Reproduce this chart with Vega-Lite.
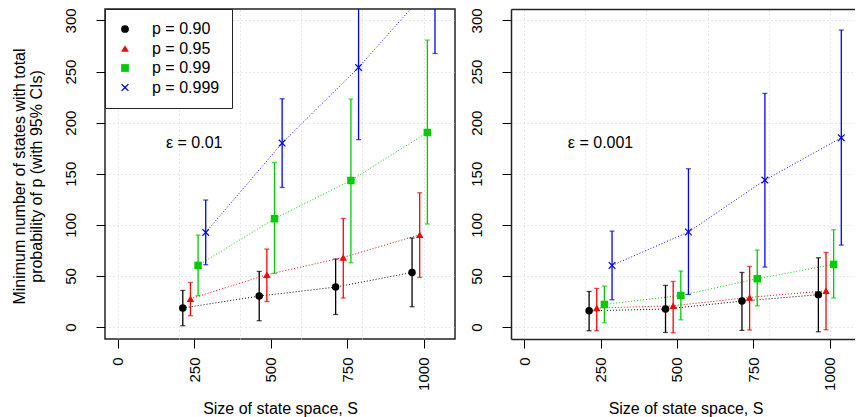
{
  "$schema": "https://vega.github.io/schema/vega-lite/v6.json",
  "autosize": {"type": "pad"},
  "padding": {"left": 10, "top": 7, "right": 0, "bottom": 0},
  "datasets": {
    "left": [
      {"p": "p = 0.90", "x": 212.5, "y": 18.6, "lo": 1.3, "hi": 35.8},
      {"p": "p = 0.90", "x": 462.5, "y": 30.3, "lo": 6.2, "hi": 54.4},
      {"p": "p = 0.90", "x": 712.5, "y": 39.1, "lo": 12.3, "hi": 66.5},
      {"p": "p = 0.90", "x": 962.5, "y": 53.4, "lo": 19.9, "hi": 87.1},
      {"p": "p = 0.95", "x": 237.5, "y": 27.7, "lo": 11.1, "hi": 43.6},
      {"p": "p = 0.95", "x": 487.5, "y": 51.2, "lo": 25.0, "hi": 76.3},
      {"p": "p = 0.95", "x": 737.5, "y": 68.1, "lo": 28.4, "hi": 106.3},
      {"p": "p = 0.95", "x": 987.5, "y": 90.3, "lo": 48.5, "hi": 131.4},
      {"p": "p = 0.99", "x": 262.5, "y": 60.3, "lo": 30.6, "hi": 90.0},
      {"p": "p = 0.99", "x": 512.5, "y": 106.0, "lo": 52.5, "hi": 161.1},
      {"p": "p = 0.99", "x": 762.5, "y": 143.4, "lo": 62.9, "hi": 223.1},
      {"p": "p = 0.99", "x": 1012.5, "y": 190.4, "lo": 100.8, "hi": 280.8},
      {"p": "p = 0.999", "x": 287.5, "y": 92.6, "lo": 61.0, "hi": 124.3},
      {"p": "p = 0.999", "x": 537.5, "y": 180.0, "lo": 136.6, "hi": 223.4},
      {"p": "p = 0.999", "x": 787.5, "y": 254.0, "lo": 183.3, "hi": 345.0},
      {"p": "p = 0.999", "x": 1037.5, "y": 338.0, "lo": 267.7, "hi": 420.0}
    ],
    "right": [
      {"p": "p = 0.90", "x": 212.5, "y": 15.9, "lo": -3.6, "hi": 34.8},
      {"p": "p = 0.90", "x": 462.5, "y": 17.6, "lo": -5.3, "hi": 40.7},
      {"p": "p = 0.90", "x": 712.5, "y": 25.4, "lo": -3.3, "hi": 53.4},
      {"p": "p = 0.90", "x": 962.5, "y": 31.6, "lo": -4.6, "hi": 67.8},
      {"p": "p = 0.95", "x": 237.5, "y": 18.6, "lo": -3.6, "hi": 37.8},
      {"p": "p = 0.95", "x": 487.5, "y": 20.8, "lo": -5.6, "hi": 44.6},
      {"p": "p = 0.95", "x": 737.5, "y": 29.0, "lo": -2.9, "hi": 59.3},
      {"p": "p = 0.95", "x": 987.5, "y": 35.5, "lo": -2.6, "hi": 73.0},
      {"p": "p = 0.99", "x": 262.5, "y": 22.1, "lo": 4.2, "hi": 40.1},
      {"p": "p = 0.99", "x": 512.5, "y": 30.9, "lo": 7.1, "hi": 54.8},
      {"p": "p = 0.99", "x": 762.5, "y": 47.3, "lo": 20.8, "hi": 75.3},
      {"p": "p = 0.99", "x": 1012.5, "y": 61.3, "lo": 28.4, "hi": 95.2},
      {"p": "p = 0.999", "x": 287.5, "y": 60.3, "lo": 26.7, "hi": 93.9},
      {"p": "p = 0.999", "x": 537.5, "y": 93.0, "lo": 31.9, "hi": 154.9},
      {"p": "p = 0.999", "x": 787.5, "y": 143.8, "lo": 58.7, "hi": 228.6},
      {"p": "p = 0.999", "x": 1037.5, "y": 185.2, "lo": 80.2, "hi": 290.6}
    ],
    "annLeft": [{"x": 250, "y": 180, "label": "ε = 0.01"}],
    "annRight": [{"x": 250, "y": 180, "label": "ε = 0.001"}]
  },
  "hconcat": [
    {
      "width": 350,
      "height": 330,
      "data": {"name": "left"},
      "layer": [
        {
          "mark": {"type": "line", "strokeDash": [1, 2], "strokeWidth": 1, "clip": true},
          "encoding": {
            "x": {"field": "x", "type": "quantitative", "scale": {"domain": [-42, 1103], "nice": false, "zero": false},
              "axis": {"values": [0, 250, 500, 750, 1000], "format": "d", "labelAngle": -90, "labelAlign": "right", "labelBaseline": "middle", "labelPadding": 9, "grid": false, "domain": false, "title": "Size of state space, S", "titleY": 61}},
            "y": {"field": "y", "type": "quantitative", "scale": {"domain": [-11.7, 311.2], "nice": false, "zero": false},
              "axis": {"values": [0, 50, 100, 150, 200, 250, 300], "format": "d", "labelAngle": -90, "labelAlign": "center", "labelBaseline": "bottom", "labelPadding": 18, "grid": true, "domain": false,
                "title": ["Minimum number of states with total", "probability of p (with 95% CIs)"], "titleLineHeight": 17, "titleX": -78, "titleY": 167, "titleAngle": -90, "titleAlign": "center", "titleBaseline": "bottom"}},
            "color": {"field": "p", "type": "nominal", "scale": {"domain": ["p = 0.90", "p = 0.95", "p = 0.99", "p = 0.999"], "range": ["#000000", "#FF0000", "#00CD00", "#0000FF"]}, "legend": null},
            "order": {"field": "x"}
          }
        },
        {
          "mark": {"type": "rule", "strokeWidth": 1.3, "clip": true},
          "encoding": {
            "x": {"field": "x", "type": "quantitative", "axis": null},
            "y": {"field": "lo", "type": "quantitative", "axis": null},
            "y2": {"field": "hi"},
            "color": {"field": "p", "type": "nominal", "legend": null}
          }
        },
        {
          "mark": {"type": "tick", "orient": "horizontal", "size": 5, "thickness": 1.3, "clip": true},
          "encoding": {
            "x": {"field": "x", "type": "quantitative", "axis": null},
            "y": {"field": "lo", "type": "quantitative", "axis": null},
            "color": {"field": "p", "type": "nominal", "legend": null}
          }
        },
        {
          "mark": {"type": "tick", "orient": "horizontal", "size": 5, "thickness": 1.3, "clip": true},
          "encoding": {
            "x": {"field": "x", "type": "quantitative", "axis": null},
            "y": {"field": "hi", "type": "quantitative", "axis": null},
            "color": {"field": "p", "type": "nominal", "legend": null}
          }
        },
        {
          "mark": {"type": "point", "filled": true, "opacity": 1, "size": 56, "clip": true},
          "encoding": {
            "x": {"field": "x", "type": "quantitative", "axis": null},
            "y": {"field": "y", "type": "quantitative", "axis": null},
            "color": {"field": "p", "type": "nominal", "legend": {"orient": "top-left", "offset": 0, "title": null}},
            "shape": {"field": "p", "type": "nominal", "scale": {"domain": ["p = 0.90", "p = 0.95", "p = 0.99", "p = 0.999"], "range": ["circle", "triangle-up", "square", "M-1,-0.77L-0.77,-1L0,-0.23L0.77,-1L1,-0.77L0.23,0L1,0.77L0.77,1L0,0.23L-0.77,1L-1,0.77L-0.23,0Z"]},
              "legend": {"orient": "top-left", "offset": 0, "title": null}}
          }
        },
        {
          "data": {"name": "annLeft"},
          "mark": {"type": "text", "fontSize": 16, "font": "Liberation Sans", "align": "center", "baseline": "middle", "color": "black"},
          "encoding": {
            "x": {"field": "x", "type": "quantitative",
              "axis": {"orient": "top", "values": [0, 200, 400, 600, 800, 1000], "grid": true, "labels": false, "ticks": false, "domain": false, "title": null}},
            "y": {"field": "y", "type": "quantitative", "axis": null},
            "text": {"field": "label"}
          }
        }
      ],
      "resolve": {"axis": {"x": "independent", "y": "independent"}, "legend": {"color": "independent", "shape": "independent"}}
    },
    {
      "width": 344,
      "height": 330,
      "view": {"stroke": null},
      "data": {"name": "right"},
      "layer": [
        {
          "mark": {"type": "line", "strokeDash": [1, 2], "strokeWidth": 1, "clip": true},
          "encoding": {
            "x": {"field": "x", "type": "quantitative", "scale": {"domain": [-43, 1082.3], "nice": false, "zero": false},
              "axis": {"values": [0, 250, 500, 750, 1000], "format": "d", "labelAngle": -90, "labelAlign": "right", "labelBaseline": "middle", "labelPadding": 9, "grid": false, "domain": true, "title": "Size of state space, S", "titleY": 61, "titleX": 174.5}},
            "y": {"field": "y", "type": "quantitative", "scale": {"domain": [-11.7, 311.2], "nice": false, "zero": false},
              "axis": {"values": [0, 50, 100, 150, 200, 250, 300], "format": "d", "labelAngle": -90, "labelAlign": "center", "labelBaseline": "bottom", "labelPadding": 18, "grid": true, "domain": true, "title": null}},
            "color": {"field": "p", "type": "nominal", "scale": {"domain": ["p = 0.90", "p = 0.95", "p = 0.99", "p = 0.999"], "range": ["#000000", "#FF0000", "#00CD00", "#0000FF"]}, "legend": null},
            "order": {"field": "x"}
          }
        },
        {
          "mark": {"type": "rule", "strokeWidth": 1.3, "clip": true},
          "encoding": {
            "x": {"field": "x", "type": "quantitative", "axis": null},
            "y": {"field": "lo", "type": "quantitative", "axis": null},
            "y2": {"field": "hi"},
            "color": {"field": "p", "type": "nominal", "legend": null}
          }
        },
        {
          "mark": {"type": "tick", "orient": "horizontal", "size": 5, "thickness": 1.3, "clip": true},
          "encoding": {
            "x": {"field": "x", "type": "quantitative", "axis": null},
            "y": {"field": "lo", "type": "quantitative", "axis": null},
            "color": {"field": "p", "type": "nominal", "legend": null}
          }
        },
        {
          "mark": {"type": "tick", "orient": "horizontal", "size": 5, "thickness": 1.3, "clip": true},
          "encoding": {
            "x": {"field": "x", "type": "quantitative", "axis": null},
            "y": {"field": "hi", "type": "quantitative", "axis": null},
            "color": {"field": "p", "type": "nominal", "legend": null}
          }
        },
        {
          "mark": {"type": "point", "filled": true, "opacity": 1, "size": 56, "clip": true},
          "encoding": {
            "x": {"field": "x", "type": "quantitative", "axis": null},
            "y": {"field": "y", "type": "quantitative", "axis": null},
            "color": {"field": "p", "type": "nominal", "legend": null},
            "shape": {"field": "p", "type": "nominal", "scale": {"domain": ["p = 0.90", "p = 0.95", "p = 0.99", "p = 0.999"], "range": ["circle", "triangle-up", "square", "M-1,-0.77L-0.77,-1L0,-0.23L0.77,-1L1,-0.77L0.23,0L1,0.77L0.77,1L0,0.23L-0.77,1L-1,0.77L-0.23,0Z"]}, "legend": null}
          }
        },
        {
          "data": {"name": "annRight"},
          "mark": {"type": "text", "fontSize": 16, "font": "Liberation Sans", "align": "center", "baseline": "middle", "color": "black"},
          "encoding": {
            "x": {"field": "x", "type": "quantitative",
              "axis": {"orient": "top", "values": [0, 200, 400, 600, 800, 1000], "grid": true, "labels": false, "ticks": false, "domain": true, "title": null}},
            "y": {"field": "y", "type": "quantitative", "axis": null},
            "text": {"field": "label"}
          }
        }
      ],
      "resolve": {"axis": {"x": "independent", "y": "independent"}}
    }
  ],
  "spacing": 56,
  "bounds": "flush",
  "resolve": {"scale": {"shape": "independent", "color": "independent"}},
  "config": {
    "font": "Liberation Sans",
    "view": {"stroke": "#222222", "strokeWidth": 1.5},
    "axis": {
      "labelFont": "Liberation Sans", "titleFont": "Liberation Sans",
      "labelFontSize": 15, "titleFontSize": 16, "titleFontWeight": "normal",
      "labelColor": "black", "titleColor": "black",
      "tickColor": "black", "tickSize": 9, "tickWidth": 1,
      "domainColor": "#222222", "domainWidth": 1.5,
      "gridColor": "#d3d3d3", "gridDash": [1, 3], "gridWidth": 1,
      "labelFlush": false, "labelOverlap": false
    },
    "legend": {
      "labelFont": "Liberation Sans", "labelFontSize": 16, "labelColor": "black",
      "padding": 12, "rowPadding": 3.5, "labelOffset": 19,
      "symbolSize": 60, "symbolStrokeWidth": 0,
      "strokeColor": "#222222", "fillColor": "white"
    }
  }
}
